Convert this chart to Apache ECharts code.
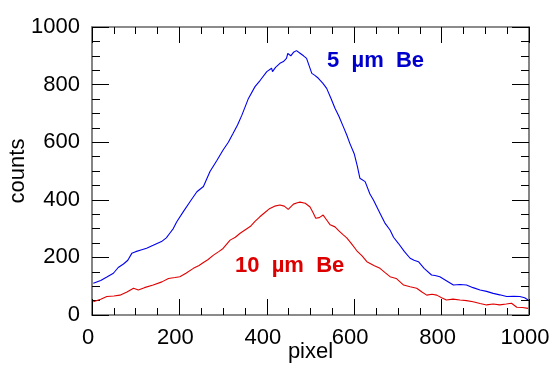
<!DOCTYPE html>
<html>
<head>
<meta charset="utf-8">
<script src="https://cdn.jsdelivr.net/npm/echarts@6/dist/echarts.min.js"></script>
<style>
html,body{margin:0;padding:0;background:#fff;}
#chart{width:552px;height:369px;}
</style>
</head>
<body>
<div id="chart"></div>
<script>
const xTicks = [0, 200, 400, 600, 800, 1000];
const yTicks = [0, 200, 400, 600, 800, 1000];

const bluePixel = [3,20,34,49,60,72,82,91,100,112,125,140,159,170,178,186,194,209,225,240,255,270,285,300,312,323,333,343,358,373,385,400,411,413,420,430,438,445,448,455,461,468,476,484,491,497,503,510,518,528,537,546,556,565,575,583,590,600,607,613,625,636,644,659,670,682,690,701,715,728,737,747,760,777,785,796,810,827,842,857,872,888,903,918,933,949,965,979,990,998];
const blueCounts = [110,120,132,145,165,177,190,214,220,226,232,242,255,268,284,300,324,359,395,428,446,498,535,573,600,631,660,694,752,793,815,845,857,845,860,874,880,891,908,900,912,918,909,900,891,865,839,832,822,805,787,755,718,690,654,625,596,560,518,475,463,420,399,353,320,295,270,249,220,197,190,185,162,139,137,133,120,104,106,104,95,87,82,75,70,64,65,64,60,52];

const redPixel = [3,20,34,50,64,80,95,106,120,140,160,175,190,201,215,232,245,255,265,278,290,300,316,328,339,350,362,373,384,395,407,418,430,440,449,461,470,476,488,499,506,512,520,529,537,545,556,565,575,583,595,606,618,629,645,659,670,682,696,705,713,728,743,755,766,778,789,800,811,826,842,857,872,888,903,918,933,948,960,972,985,998];
const redCounts = [46,55,64,66,69,80,93,87,95,104,115,127,130,133,145,162,172,182,192,208,220,231,260,270,284,295,307,325,341,355,370,378,382,378,367,385,390,392,388,375,355,336,338,347,330,313,306,292,278,268,245,223,205,185,172,162,148,133,127,115,104,98,93,80,69,72,69,60,52,55,52,50,46,40,35,38,35,38,41,27,26,23];

const label5 = '5  µm  Be';
const label10 = '10  µm  Be';

const font = 'Liberation Sans, Arial, Helvetica, sans-serif';
const chart = echarts.init(document.getElementById('chart'), null, {renderer: 'canvas'});

function makeX(pos, showLabels) {
  return {
    type: 'value', position: pos, min: xTicks[0], max: xTicks[xTicks.length-1], interval: 200,
    name: showLabels ? 'pixel' : '', nameLocation: 'middle', nameGap: 26, nameMoveOverlap: false,
    nameTextStyle: {fontFamily: font, fontSize: 22, color: '#000'},
    axisLine: {show: true, onZero: false, lineStyle: {color: '#666', width: 1.6}},
    axisTick: {show: true, inside: true, length: 16, lineStyle: {color: '#000', width: 1}},
    minorTick: {show: true, splitNumber: 4, length: 7, lineStyle: {color: '#000', width: 1}},
    axisLabel: {show: showLabels, fontFamily: font, fontSize: 22, color: '#000', margin: 12, padding: [0, 8, 0, 0],
      formatter: v => String(v)},
    splitLine: {show: false}, minorSplitLine: {show: false}
  };
}
function makeY(pos, showLabels) {
  return {
    type: 'value', position: pos, min: yTicks[0], max: yTicks[yTicks.length-1], interval: 200,
    name: showLabels ? 'counts' : '', nameLocation: 'middle', nameGap: 63, nameRotate: 90, nameMoveOverlap: false,
    nameTextStyle: {fontFamily: font, fontSize: 22, color: '#000'},
    axisLine: {show: true, onZero: false, lineStyle: {color: '#666', width: 1.6}},
    axisTick: {show: true, inside: true, length: 17, lineStyle: {color: '#000', width: 1}},
    minorTick: {show: true, splitNumber: 4, length: 8, lineStyle: {color: '#000', width: 1}},
    axisLabel: {show: showLabels, fontFamily: font, fontSize: 22, color: '#000', margin: 12, padding: [0, 0, 8, 0],
      formatter: v => String(v)},
    splitLine: {show: false}, minorSplitLine: {show: false}
  };
}

chart.setOption({
  animation: false,
  backgroundColor: '#fff',
  grid: {left: 92, right: 23, top: 27, bottom: 54, containLabel: false, outerBoundsMode: 'none'},
  xAxis: [makeX('bottom', true), makeX('top', false)],
  yAxis: [makeY('left', true), makeY('right', false)],
  graphic: [
    {type: 'text', left: 327, top: 50, style: {text: label5, fontFamily: font, fontSize: 22, fontWeight: 'bold', fill: '#0000cc'}},
    {type: 'text', left: 235, top: 255, style: {text: label10, fontFamily: font, fontSize: 22, fontWeight: 'bold', fill: '#dd0000'}}
  ],
  series: [
    {type: 'line', xAxisIndex: 0, yAxisIndex: 0, showSymbol: false, symbol: 'none',
     lineStyle: {color: '#0000ee', width: 1.1},
     data: bluePixel.map((x, i) => [x, blueCounts[i]])},
    {type: 'line', xAxisIndex: 0, yAxisIndex: 0, showSymbol: false, symbol: 'none',
     lineStyle: {color: '#e00000', width: 1.1},
     data: redPixel.map((x, i) => [x, redCounts[i]])}
  ]
});
</script>
</body>
</html>
